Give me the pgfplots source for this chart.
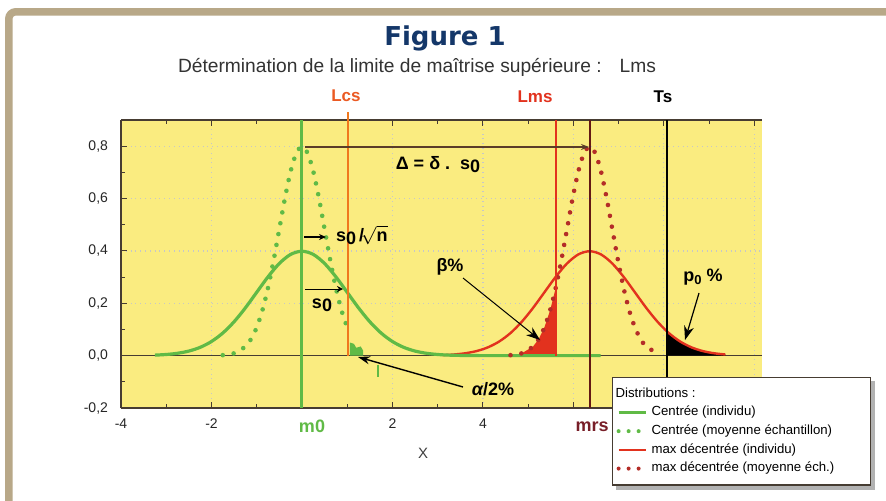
\documentclass[border=0pt]{standalone}
\usepackage{fontspec}
\setmainfont{Liberation Sans}
\setsansfont{Liberation Sans}
\newfontfamily\dejavu{DejaVu Sans}
\usepackage{pgfplots}
\pgfplotsset{compat=1.18}
\usetikzlibrary{arrows.meta,backgrounds}
\definecolor{framec}{RGB}{184,168,136}
\definecolor{ybg}{RGB}{250,236,128}
\definecolor{cgreen}{RGB}{96,186,70}
\definecolor{corange}{RGB}{240,120,30}
\definecolor{cred}{RGB}{226,50,30}
\definecolor{cdred}{RGB}{180,45,40}
\definecolor{cbrown}{RGB}{100,25,20}
\definecolor{navy}{RGB}{20,55,105}
\definecolor{axgray}{RGB}{70,60,50}
\definecolor{arrowc}{RGB}{90,60,40}
\begin{document}
\begin{tikzpicture}
\useasboundingbox (0pt,0pt) rectangle (443pt,250pt);
\begin{scope}[x=0.5pt,y=-0.5pt,shift={(0pt,250pt)}]
\draw[framec, line width=3.75pt, rounded corners=3.5pt] (8.8,560) -- (8.8,11.8) -- (950,11.8);
\end{scope}
\begin{axis}[
  at={(60.5pt,46pt)}, anchor=south west,
  scale only axis, width=320.5pt, height=144pt,
  xmin=-4, xmax=10.17, ymin=-0.2, ymax=0.9,
  axis background/.style={fill=ybg},
  axis x line=box, axis y line=left,
  axis line style={axgray, line width=0.6pt},
  y axis line style={-},
  xtick={-4,-2,0,2,4,6,8,10}, xticklabels={-4,-2,,2,4,,,},
  ytick={-0.2,0,0.2,0.4,0.6,0.8},
  minor x tick num=1, minor y tick num=1,
  tick align=inside, major tick length=3pt, minor tick length=2pt,
  tick style={axgray, line width=0.5pt},
  grid=major, major grid style={dotted, line width=0.6pt, black!22},
  ticklabel style={font=\fontsize{7}{8}\selectfont, text=black!85},
  xticklabel style={yshift=-2pt},
  yticklabel style={xshift=-3pt},
  /pgf/number format/.cd, use comma, fixed, fixed zerofill, precision=1, assume math mode=true,
  /pgfplots/.cd,
  clip=false,
  legend style={name=leg, at={(0.766,0.108)}, anchor=north west, draw=axgray, line width=0.6pt,
    fill=white, font=\fontsize{6.6}{7.8}\selectfont, inner xsep=2pt, inner ysep=3pt,
    row sep=-1pt},
  legend cell align=left,
  legend image code/.code={\draw[#1] (0pt,0pt) -- (13.5pt,0pt);},
]
\addlegendimage{empty legend}\addlegendentry{\hspace*{-18pt}Distributions :}
\addlegendimage{cgreen, line width=1.5pt}\addlegendentry{Centrée (individu)}
\addlegendimage{cgreen, line width=2pt, line cap=round, dash pattern=on 0pt off 5pt}\addlegendentry{Centrée (moyenne échantillon)\hspace*{15pt}}
\addlegendimage{cred, line width=1.1pt}\addlegendentry{max décentrée (individu)}
\addlegendimage{cdred, line width=2pt, line cap=round, dash pattern=on 0pt off 5pt}\addlegendentry{max décentrée (moyenne éch.)}

% zero line
\addplot[forget plot, axgray, line width=0.6pt] coordinates {(-4,0) (10.17,0)};

% fills
\addplot[forget plot, fill=cred, draw=none] coordinates {(4.86,0) (4.86,0.0089) (5.11,0.035) (5.235,0.0635) (5.36,0.108) (5.485,0.1726) (5.61,0.259) (5.61,0)} -- cycle;
\addplot[forget plot, fill=black, draw=none] coordinates {(8.07,0) (8.07,0.0925) (8.11,0.0863) (8.36,0.054) (8.61,0.0317) (8.86,0.0175) (9.11,0.0091) (9.36,0.0044) (9.36,0)} -- cycle;
\addplot[forget plot, fill=cgreen, draw=none] coordinates {(1.06,0) (1.06,0.05) (1.15,0.045) (1.2,0.03) (1.3,0.035) (1.35,0.02) (1.35,0)} -- cycle;

% red solid (max decentree, individu)
\addplot[forget plot, cred, line width=1.2pt, smooth] coordinates {
(3.11,0.0020) (3.36,0.0044) (3.61,0.0091) (3.86,0.0175) (4.11,0.0317) (4.36,0.0540)
(4.61,0.0863) (4.86,0.1295) (5.11,0.1826) (5.36,0.2420) (5.61,0.3011) (5.86,0.3521)
(6.11,0.3867) (6.36,0.3989) (6.61,0.3867) (6.86,0.3521) (7.11,0.3011) (7.36,0.2420)
(7.61,0.1826) (7.86,0.1295) (8.11,0.0863) (8.36,0.0540) (8.61,0.0317) (8.86,0.0175)
(9.11,0.0091) (9.36,0.0044)};

% green solid (centree, individu)
\addplot[forget plot, cgreen, line width=1.6pt, smooth] coordinates {
(-3.25,0.0020) (-3,0.0044) (-2.75,0.0091) (-2.5,0.0175) (-2.25,0.0317) (-2,0.0540)
(-1.75,0.0863) (-1.5,0.1295) (-1.25,0.1826) (-1,0.2420) (-0.75,0.3011) (-0.5,0.3521)
(-0.25,0.3867) (0,0.3989) (0.25,0.3867) (0.5,0.3521) (0.75,0.3011) (1,0.2420)
(1.25,0.1826) (1.5,0.1295) (1.75,0.0863) (2,0.0540) (2.25,0.0317) (2.5,0.0175)
(2.75,0.0091) (3,0.0044) (3.25,0.0020) (3.5,0.0009) (4,0.0001) (5,0) (6.6,0)};

% green dotted (centree, moyenne)
\addplot[forget plot, cgreen, line width=2.3pt, line cap=round, dash pattern=on 0pt off 5.5pt, smooth] coordinates {
(-1.75,0.0018) (-1.5,0.0089) (-1.25,0.0350) (-1.125,0.0635) (-1,0.1080) (-0.875,0.1726)
(-0.75,0.2590) (-0.625,0.3652) (-0.5,0.4839) (-0.375,0.6022) (-0.25,0.7042) (-0.125,0.7734)
(0,0.7979) (0.125,0.7734) (0.25,0.7042) (0.375,0.6022) (0.5,0.4839) (0.625,0.3652)
(0.75,0.2590) (0.875,0.1726) (1,0.1080)};

% red dotted (max decentree, moyenne)
\addplot[forget plot, cdred, line width=2.3pt, line cap=round, dash pattern=on 0pt off 5.5pt, smooth] coordinates {
(4.61,0.0018) (4.86,0.0089) (5.11,0.0350) (5.235,0.0635) (5.36,0.1080) (5.485,0.1726)
(5.61,0.2590) (5.735,0.3652) (5.86,0.4839) (5.985,0.6022) (6.11,0.7042) (6.235,0.7734)
(6.36,0.7979) (6.485,0.7734) (6.61,0.7042) (6.735,0.6022) (6.86,0.4839) (6.985,0.3652)
(7.11,0.2590) (7.235,0.1726) (7.36,0.1080) (7.485,0.0635) (7.61,0.0350) (7.86,0.0089)};

% vertical reference lines
\addplot[forget plot, cgreen, line width=1.5pt] coordinates {(0,-0.2) (0,0.9)};
\addplot[forget plot, corange, line width=1.3pt] coordinates {(1.02,0) (1.02,0.93)};
\addplot[forget plot, cred, line width=1.1pt] coordinates {(5.61,0) (5.61,0.9)};
\addplot[forget plot, cbrown, line width=1.1pt] coordinates {(6.36,-0.2) (6.36,0.9)};
\addplot[forget plot, black, line width=1.2pt] coordinates {(8.07,-0.2) (8.07,0.9)};
\addplot[forget plot, cgreen, line width=0.8pt] coordinates {(1.68,-0.035) (1.68,-0.08)};
\end{axis}
\begin{scope}[on background layer]
\fill[white] (0pt,0pt) rectangle (443pt,250pt);
\fill[black!30] ([xshift=2pt,yshift=-2pt]leg.south west) rectangle ([xshift=2pt,yshift=-2pt]leg.north east);
\end{scope}
\begin{scope}[x=0.5pt,y=-0.5pt,shift={(0pt,250pt)}]
\node[text=navy] at (445,38) {\dejavu\bfseries\fontsize{13}{15}\selectfont Figure 1};
\node[text=black!80] at (417,67) {\fontsize{9.6}{11}\selectfont Détermination de la limite de maîtrise supérieure :\hspace{9pt}Lms};
\node[text={rgb,255:red,235;green,90;blue,35}] at (346,96) {\fontsize{8.5}{10}\selectfont\bfseries Lcs};
\node[text=cred] at (535,97) {\fontsize{8.5}{10}\selectfont\bfseries Lms};
\node[text=black] at (663,97) {\fontsize{8.5}{10}\selectfont\bfseries Ts};
\node[text=cgreen] at (312,426) {\fontsize{9}{10}\selectfont\bfseries m0};
\node[text={rgb,255:red,120;green,30;blue,40}] at (592,427) {\fontsize{9}{10}\selectfont\bfseries mrs};
\node[text=black!75] at (423,453) {\fontsize{7.5}{9}\selectfont X};
% Delta arrow
\draw[-{Stealth[length=4pt,width=3pt]}, arrowc, line width=0.6pt] (305,147) -- (589,147);
\node at (438,165) {\fontsize{9}{10}\selectfont\bfseries Δ = δ .\ \ s\raisebox{-1.5pt}{0}};
% s0/sqrt n
\draw[-{Stealth[length=3.5pt,width=3pt]}, black, line width=0.7pt] (304,237) -- (326,237);
\node[anchor=west] at (329,235) {\fontsize{9}{10}\selectfont\bfseries s\raisebox{-1.5pt}{0}\,/\!$\sqrt{\mbox{\bfseries n}}$};
% s0
\draw[-{Stealth[length=3pt,width=3pt]}, black, line width=0.5pt] (305,289) -- (343,289);
\node at (322,305) {\fontsize{9}{10}\selectfont\bfseries s\raisebox{-1.5pt}{0}};
% beta
\node at (450,267) {\fontsize{9}{10}\selectfont\bfseries β\%};
\draw[-{Stealth[length=7pt,width=5pt]}, black, line width=0.5pt] (463,278) -- (540,340);
% p0
\node at (703,277) {\fontsize{9}{10}\selectfont\bfseries p\raisebox{-1.5pt}{\fontsize{6.5}{7}\selectfont 0} \%};
\draw[-{Stealth[length=7pt,width=5pt]}, black, line width=0.6pt] (699,293) -- (685,340);
% alpha/2
\node at (493,389) {\fontsize{9}{10}\selectfont\bfseries\itshape α\upshape/2\%};
\draw[-{Stealth[length=6pt,width=4pt]}, black, line width=0.7pt] (463,387) -- (358,357);
\end{scope}
\end{tikzpicture}
\end{document}
